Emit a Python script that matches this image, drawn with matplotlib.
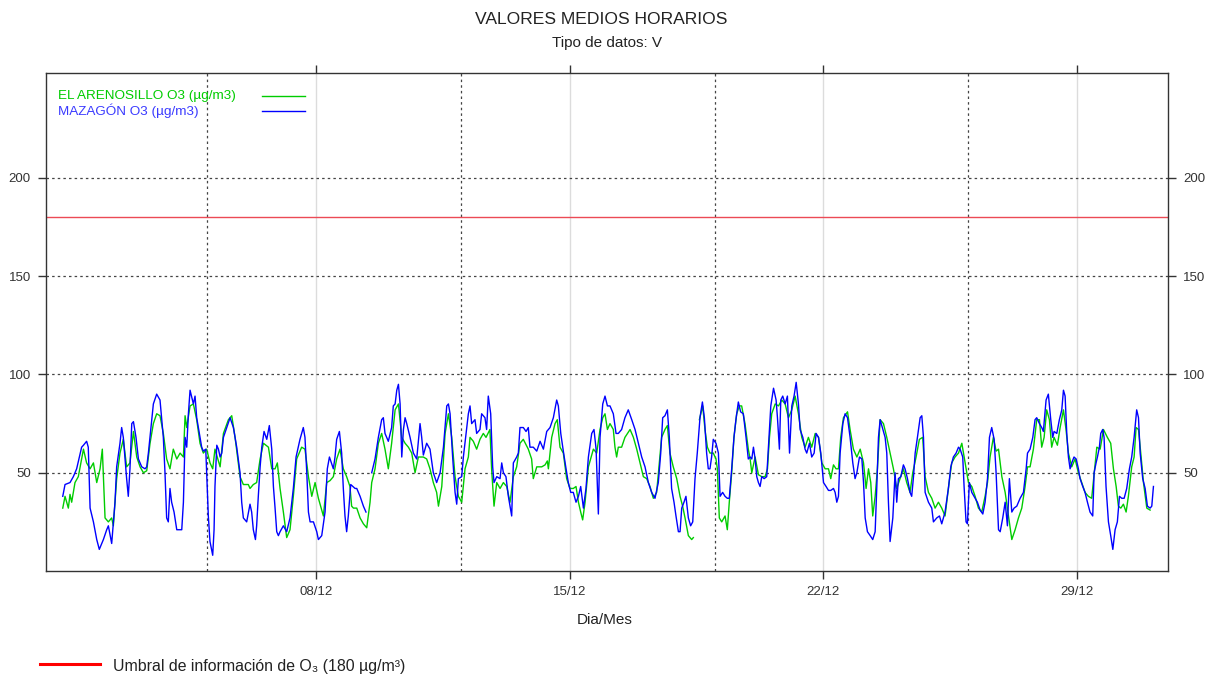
import numpy as np
import matplotlib
matplotlib.use("Agg")
import matplotlib.pyplot as plt
from matplotlib.lines import Line2D

plt.rcParams['font.family'] = ['Liberation Sans', 'DejaVu Sans']

NAN = float('nan')

# ---------------- data (hours since 01/12 00:00, O3 in ug/m3) ----------------
mazagon_hours = [
    0.3, 1.8, 5.1, 7.3, 9.5, 12.8, 14.0, 16.1, 17.2, 18.4, 20.6, 22.8, 24.5, 27.2, 29.4, 30.5, 32.7, 34.9,
    36.0, 38.2, 39.3, 40.4, 42.6, 43.7, 44.8, 46.0, 47.1, 48.8, 50.4, 52.6, 54.8, 55.9, 57.0, 59.2, 60.3,
    62.5, 64.7, 66.9, 68.0, 69.1, 70.2, 71.3, 72.4, 74.0, 75.8, 78.0, 79.1, 80.2, 81.3, 82.4, 83.5, 84.6,
    86.8, 87.9, 89.0, 91.2, 92.3, 93.4, 95.0, 95.6, 96.7, 97.8, 99.6, 100.5, 101.1, 102.3, 103.4, 104.5,
    105.6, 106.7, 108.9, 111.1, 113.3, 115.5, 117.7, 118.8, 119.9, 122.1, 124.3, 125.4, 126.5, 127.9,
    128.7, 129.8, 131.0, 132.1, 133.6, 135.4, 137.1, 138.7, 139.8, 140.9, 142.0, 143.1, 144.2, 146.4,
    148.6, 150.8, 153.0, 154.8, 157.4, 159.6, 160.7, 161.9, 163.0, 164.1, 166.3, 168.5, 169.6, 171.8,
    174.0, 175.5, 176.9, 179.5, 180.6, 181.7, 183.5, 185.0, 186.1, 187.2, 188.3, 189.4, 191.0, 193.9,
    195.0, 197.2, 199.4, 201.1, 203.0, 204.9, 207.1, 209.3, 211.5, 212.6, 213.7, 215.9, 218.1, 219.2,
    220.4, 221.5, 222.6, 223.7, 224.8, 225.9, 227.0, 228.1, 230.3, 232.5, 234.7, 236.9, 238.0, 239.1,
    241.3, 243.5, 245.7, 247.9, 250.2, 252.4, 254.6, 255.7, 256.8, 258.5, 260.1, 261.2, 262.3, 264.5,
    265.6, 267.8, 268.9, 270.0, 271.1, 273.3, 274.4, 276.6, 277.7, 279.9, 281.0, 282.1, 283.7, 285.0,
    285.9, 287.7, 289.9, 291.0, 292.1, 293.8, 295.4, 296.5, 297.6, 298.7, 300.9, 302.0, 303.1, 305.3,
    307.1, 308.6, 309.7, 311.9, 314.2, 316.4, 318.6, 320.8, 323.0, 325.2, 327.4, 328.5, 330.1, 331.8,
    333.6, 335.1, 336.7, 338.4, 340.2, 341.8, 343.3, 345.1, 346.8, 348.4, 350.6, 352.1, 353.5, 355.0,
    356.1, 357.9, 359.4, 361.0, 362.7, 364.9, 366.7, 368.2, 370.4, 372.6, 374.8, 377.1, 379.3, 381.5,
    383.7, 385.9, 388.1, 390.3, 392.5, 394.7, 396.3, 397.6, 399.1, 400.7, 402.0, 403.5, 405.1, 406.4,
    408.0, 409.1, 410.2, 411.7, 413.0, 414.6, 416.1, 417.5, 419.0, 420.5, 422.3, 423.9, 425.2, 426.7,
    427.8, 428.9, 430.0, 431.1, 432.9, 434.5, 435.6, 437.3, 438.9, 440.4, 441.7, 443.3, 444.8, 446.1,
    447.7, 449.2, 451.0, 452.8, 454.3, 455.5, 456.6, 457.7, 458.8, 459.9, 461.0, 462.1, 463.2, 464.8,
    466.5, 467.6, 469.2, 471.0, 472.7, 473.6, 474.9, 475.8, 477.1, 478.7, 480.2, 481.6, 483.1, 484.6,
    486.0, 487.5, 488.6, 490.4, 491.9, 493.0, 494.8, 496.3, 497.9, 499.2, 500.8, 502.3, 504.1, 505.8,
    507.4, 508.9, 510.7, 511.8, 512.9, 514.0, 515.1, 516.9, 518.4, 520.0, 521.7, 523.5, 525.0, 526.2,
    527.9, 529.5, 530.6, 531.7, 533.2, 535.0, 536.7, 538.3, 539.4, 540.5, 541.6, 543.4, 544.9, 546.0,
    547.1, 548.2, 550.0, 551.5, 552.6, 553.7, 555.3, 557.0, 558.1, 559.7, 561.4, 562.5, 563.7, 564.8,
    566.3, 568.1, 569.2, 570.3, 571.4, 573.6, 575.8, 576.9, 579.1, 580.9, 582.4, 584.6, 586.8, 588.4,
    590.1, 591.9, 593.5, 594.6, 596.3, 597.2, 598.5, 599.4, 600.7, 602.3, 604.5, 606.0, 607.8, 609.6,
    611.1, 612.7, 614.0, 615.5, 617.1, 618.4, 620.0, 621.1, 622.8, 624.4, 625.9, 627.2, 628.8, 630.3,
    632.1, 634.3, 636.5, 638.3, 639.2, 640.9, 642.7, 644.2, 645.3, 647.1, 648.6, 649.7, 651.5, 653.0,
    654.6, 655.9, 656.8, 658.6, 660.3, 661.9, 663.0, 664.1, 665.2, 666.3, 667.4, 668.5, 670.0, 671.4,
    672.9, 674.0, 675.8, 677.3, 678.9, 680.6, 682.4, 683.3, 684.6, 685.5, 686.8, 687.7, 689.0, 689.9,
    691.2, 692.8, 694.3, 695.7, 697.2, 698.7, 700.1, 701.6, 703.2, 704.9, 706.7, 708.2, 709.8, 711.5,
    712.7, 713.8, 715.5, 717.1, 718.6, 720.4, 721.5, 722.6]
mazagon_o3 = [
    38, 44, 45, 48, 52, 63, 64, 66, 63, 32, 25, 16, 11, 16, 21, 23, 14, 35,
    53, 65, 73, 68, 47, 38, 52, 75, 76, 68, 57, 53, 52, 53, 60, 77, 85,
    90, 87, 68, 50, 27, 25, 42, 35, 30, 21, 21, 21, 35, 68, 63, 80, 92,
    85, 89, 78, 68, 63, 61, 62, 50, 28, 15, 8, 21, 43, 64, 62, 58,
    60, 68, 73, 78, 73, 63, 50, 35, 27, 25, 34, 30, 21, 16,
    23, 38, 53, 63, 71, 67, 74, 62, 43, 32, 20, 18, 20, 23,
    20, 27, 42, 58, 67, 73, 68, 50, 30, 25, 25, 20, 16, 18,
    30, 52, 58, 52, 58, 67, 71, 60, 42, 28, 20, 28, 44, 42,
    42, 38, 33, 30, NAN, 50, 57, 68, 77, 78, 70, 66, 73, 84,
    85, 92, 95, 85, 58, 72, 78, 75, 68, 60, 57, 75, 68, 59,
    65, 62, 50, 45, 50, 63, 84, 85, 80, 58, 40, 34, 47, 48,
    58, 73, 80, 84, 75, 77, 70, 72, 80, 78, 72, 89, 80, 53,
    45, 48, 47, 55, 50, 48, 38, 33, 28, 55, 58, 60, 73, 73,
    71, 73, 63, 63, 61, 66, 62, 71, 73, 78, 87, 84, 70, 61,
    52, 45, 40, 40, 35, 38, 43, 32, 42, 58, 70, 72, 62, 29,
    68, 85, 89, 84, 84, 80, 70, 70, 72, 78, 82, 77, 72, 65,
    58, 53, 45, 40, 37, 45, 60, 78, 79, 82, 68, 42, 35, 28,
    20, 20, 32, 35, 38, 27, 23, 25, 47, 60, 78, 86, 78, 60,
    52, 52, 58, 67, 65, 60, 38, 40, 38, 37, 37, 52, 68, 77,
    86, 81, 80, 68, 57, 58, 57, 63, 57, 48, 45, 43, 48, 47,
    48, 63, 84, 93, 87, 78, 62, 87, 89, 85, 89, 60, 84, 89,
    96, 85, 72, 68, 62, 60, 65, 58, 60, 70, 68, 60, 45, 43,
    41, 41, 42, 40, 35, 38, 60, 75, 80, 78, 68, 55, 47, 50,
    58, 57, 45, 27, 20, 18, 16, 20, 43, 68, 77, 72, 68, 60,
    35, 15, 27, 50, 35, 47, 48, 54, 52, 47, 40, 38, 48, 60,
    68, 78, 79, 68, 40, 35, 32, 25, 27, 28, 24, 30, 42, 53,
    58, 60, 63, 62, 58, 43, 25, 24, 45, 40, 37, 35, 31, 29,
    35, 47, 68, 73, 67, 50, 21, 20, 27, 35, 23, 47, 30, 32,
    33, 37, 40, 52, 60, 62, 68, 77, 78, 75, 73, 71, 87, 90,
    77, 68, 71, 70, 77, 82, 92, 89, 70, 58, 52, 55, 58, 57,
    52, 47, 43, 40, 35, 30, 28, 50, 55, 58, 63, 70, 72, 68,
    43, 25, 18, 11, 21, 25, 38, 37, 37, 42, 52, 58, 68, 82,
    78, 60, 47, 42, 33, 32, 33, 43]

arenosillo_hours = [
    0.3, 1.8, 4.0, 5.1, 6.2, 8.4, 10.6, 14.0, 16.1, 18.4, 20.6, 22.8, 25.0, 26.5, 28.3, 30.5, 32.7, 33.8,
    36.0, 38.2, 40.4, 42.6, 44.8, 47.1, 49.3, 51.5, 53.7, 55.9, 58.1, 60.3, 62.5, 64.7, 66.9, 69.1, 71.3,
    73.5, 75.8, 78.0, 80.2, 81.3, 82.4, 84.6, 86.8, 89.0, 91.2, 93.4, 95.6, 97.8, 99.6, 101.1, 104.5,
    106.7, 110.0, 112.2, 114.4, 117.7, 119.9, 123.2, 124.3, 126.5, 128.7, 131.0, 133.2, 136.5, 138.7,
    140.9, 142.4, 144.2, 146.4, 148.6, 150.8, 153.0, 155.2, 158.5, 160.7, 163.0, 165.2, 167.4, 169.6,
    172.9, 175.1, 177.3, 179.5, 181.7, 183.9, 186.1, 188.3, 190.5, 191.6, 192.8, 195.0, 197.2, 199.4,
    201.6, 203.8, 204.9, 207.1, 209.3, 211.5, 213.7, 215.9, 218.1, 220.4, 222.6, 224.8, 227.0, 229.2,
    231.4, 233.6, 235.8, 239.1, 241.3, 243.5, 245.7, 247.9, 249.1, 251.3, 253.5, 255.7, 257.9, 260.1,
    262.3, 264.5, 266.7, 268.9, 270.0, 272.2, 274.4, 276.6, 278.8, 280.6, 283.2, 284.3, 285.9, 287.7,
    289.9, 292.1, 294.3, 296.5, 298.7, 300.9, 303.1, 305.3, 308.6, 310.8, 311.9, 314.2, 317.5, 319.7,
    321.2, 321.9, 324.1, 326.3, 327.8, 329.6, 331.8, 334.0, 336.2, 338.4, 340.2, 341.8, 343.3, 344.6,
    346.2, 348.4, 351.7, 353.9, 356.1, 357.9, 359.4, 361.0, 362.7, 364.9, 366.0, 367.1, 368.2, 370.4,
    372.6, 376.0, 378.2, 380.4, 382.6, 384.8, 387.0, 389.2, 391.4, 393.6, 395.4, 396.9, 399.1, 400.7,
    402.4, 404.6, 406.9, 409.1, 410.8, 412.4, 414.6, 416.8, 417.9, 419.5, 421.9, 424.1, 425.6, 427.2,
    428.9, 431.1, 432.9, 433.8, 435.1, 436.7, 438.9, 440.4, 441.7, 443.3, 444.8, 446.6, 448.4, 449.9,
    452.1, 454.3, 455.5, 456.6, 458.8, 461.0, 463.2, 465.4, 467.0, 468.3, 469.8, 472.1, 474.3, 476.5,
    478.7, 480.9, 483.1, 485.3, 487.5, 489.7, 491.9, 494.1, 496.3, 498.6, 500.8, 503.0, 505.2, 507.4,
    508.9, 510.7, 512.4, 514.0, 515.5, 517.3, 520.0, 521.7, 523.9, 526.2, 528.4, 530.6, 532.3, 533.9,
    535.4, 536.7, 538.3, 539.8, 541.6, 543.8, 546.0, 548.2, 550.4, 552.6, 554.8, 557.0, 559.2, 561.4,
    563.2, 565.4, 567.6, 569.8, 571.4, 573.6, 575.8, 578.0, 580.2, 582.4, 584.6, 586.8, 589.0, 591.2,
    593.5, 595.7, 597.9, 600.1, 602.3, 604.5, 606.7, 608.9, 611.1, 612.7, 614.4, 616.6, 618.4, 620.0,
    622.2, 624.4, 626.6, 628.8, 631.0, 633.2, 635.4, 637.6, 639.2, 640.9, 643.1, 645.3, 647.1, 648.6,
    650.2, 651.9, 653.7, 655.2, 656.8, 659.0, 660.8, 663.0, 664.7, 666.3, 668.5, 670.7, 672.9, 675.1,
    677.3, 679.5, 681.7, 685.1, 687.3, 689.5, 692.1, 694.3, 696.1, 697.9, 699.4, 701.0, 702.7, 704.5,
    706.0, 708.2, 709.8, 711.1, 712.7, 714.2, 716.0, 718.2, 720.4]
arenosillo_o3 = [
    32, 38, 32, 39, 35, 45, 48, 62, 55, 52, 55, 45, 52, 62, 27, 25, 27, 23,
    47, 60, 67, 53, 55, 71, 58, 53, 50, 51, 65, 75, 80, 79, 70, 57, 52,
    62, 57, 60, 58, 79, 73, 84, 85, 77, 65, 60, 62, 55, 52, 62, 53,
    70, 77, 79, 68, 48, 44, 44, 42, 44, 45, 57, 65, 63, 52,
    52, 55, 42, 30, 17, 21, 38, 57, 63, 62, 48, 38, 45, 37,
    28, 45, 46, 48, 57, 62, 52, 48, 43, 33, 32, 32, 27, 24,
    22, 35, 45, 52, 65, 70, 62, 52, 65, 82, 85, 68, 65, 63,
    60, 50, 58, 58, 57, 52, 45, 40, 33, 43, 70, 80, 68, 48,
    38, 35, 52, 58, 68, 66, 62, 67, 70, 68, 72, 52, 33, 45,
    42, 45, 43, 35, 48, 53, 65, 67, 62, 57, 47, 53, 53, 54,
    56, 52, 68, 75, 77, 63, 60, 47, 42, 42, 43, 35, 30, 26,
    35, 53, 62, 60, 72, 78, 80, 72, 75, 72, 63, 58, 63, 63,
    68, 72, 68, 62, 55, 48, 47, 43, 37, 40, 55, 68, 72, 74,
    60, 53, 47, 38, 33, 27, 18, 16, 17, NAN, 77, 84, 72, 63,
    60, 60, 57, 52, 27, 25, 28, 21, 35, 50, 68, 80, 84, 84,
    75, 62, 57, 50, 58, 49, 48, 48, 52, 68, 80, 85, 84, 87,
    85, 78, 82, 89, 80, 68, 63, 68, 63, 70, 68, 55, 52, 52,
    47, 54, 52, 52, 68, 78, 81, 72, 62, 58, 62, 55, 42, 52,
    45, 28, 38, 52, 77, 75, 68, 60, 52, 42, 47, 52, 45, 40,
    50, 58, 67, 68, 48, 40, 37, 32, 35, 32, 28, 42, 55, 58,
    60, 65, 55, 45, 43, 38, 32, 30, 38, 45, 58, 68, 61, 62,
    48, 40, 28, 16, 21, 27, 32, 43, 53, 53, 62, 77, 77, 63,
    68, 82, 77, 63, 68, 64, 73, 82, 72, 60, 53, 57, 50, 45,
    40, 38, 37, 63, 62, 72, 68, 65, 52, 43, 33, 32, 34, 30,
    38, 53, 58, 73, 72, 60, 45, 32, 31]

series_names = ['EL ARENOSILLO O3 (µg/m3)', 'MAZAGÓN O3 (µg/m3)']
series_colors = ['#00cc00', '#0000ff']
threshold = 180
day_ticks = [7, 14, 21, 28]
day_labels = ['08/12', '15/12', '22/12', '29/12']
week_lines = [4, 11, 18, 25]
y_ticks = [50, 100, 150, 200]

# ---------------- figure ----------------
W, H = 1207, 679
fig = plt.figure(figsize=(W / 100, H / 100), dpi=100)
fig.patch.set_facecolor('white')
ax = fig.add_axes([46 / W, 1 - 571 / H, (1168 - 46) / W, (571 - 73) / H])
ax.set_xlim(-0.45, 30.51)
ax.set_ylim(0, 253.4)

# grid
for v in day_ticks:
    ax.axvline(v, color='#dcdcdc', lw=1.0, zorder=1)
for v in week_lines:
    ax.axvline(v, color='#444444', lw=0.9, ls=(0, (2, 2.5)), zorder=1)
for v in y_ticks:
    ax.axhline(v, color='#444444', lw=0.9, ls=(0, (2, 2.5)), zorder=1)
ax.axhline(threshold, color='#ec4a55', lw=1.0, zorder=2)

ax.plot(np.array(arenosillo_hours) / 24.0, arenosillo_o3, color=series_colors[0], lw=1.0, zorder=3)
ax.plot(np.array(mazagon_hours) / 24.0, mazagon_o3, color=series_colors[1], lw=1.0, zorder=4)

# ticks
ax.set_xticks(day_ticks)
ax.set_xticklabels(day_labels)
ax.set_yticks(y_ticks)
ax.tick_params(axis='both', direction='out', length=6, width=1.0, color='#333333',
               labelsize=9.5, labelcolor='#333333', top=True, right=True,
               labelright=True, labeltop=False, pad=5)
for s in ax.spines.values():
    s.set_color('#333333')
    s.set_linewidth(1.0)

# legend (inside top-left)
leg_y = [96, 111]
text_colors = ['#00cc00', '#3a3aff']
for name, col, tcol, yy in zip(series_names, series_colors, text_colors, leg_y):
    fig.text(58 / W, 1 - yy / H, name, color=tcol, fontsize=9.7, va='center', ha='left')
    fig.add_artist(Line2D([262 / W, 305 / W], [1 - yy / H, 1 - yy / H], color=col, lw=1.0))

# titles
fig.text(601 / W, 1 - 20 / H, 'VALORES MEDIOS HORARIOS', ha='center', va='center',
         fontsize=12.6, color='#222222')
fig.text(607 / W, 1 - 43 / H, 'Tipo de datos: V', ha='center', va='center',
         fontsize=11, color='#222222')
fig.text(605 / W, 1 - 620 / H, 'Dia/Mes', ha='center', va='center', fontsize=11, color='#222222')

# bottom threshold legend
fig.add_artist(Line2D([40 / W, 100 / W], [1 - 664 / H, 1 - 664 / H], color='#ff0000', lw=2.2))
fig.text(113 / W, 1 - 667 / H, 'Umbral de información de O₃ (180 µg/m³)', ha='left', va='center',
         fontsize=11.4, color='#222222')

fig.savefig('out.png', dpi=100)
